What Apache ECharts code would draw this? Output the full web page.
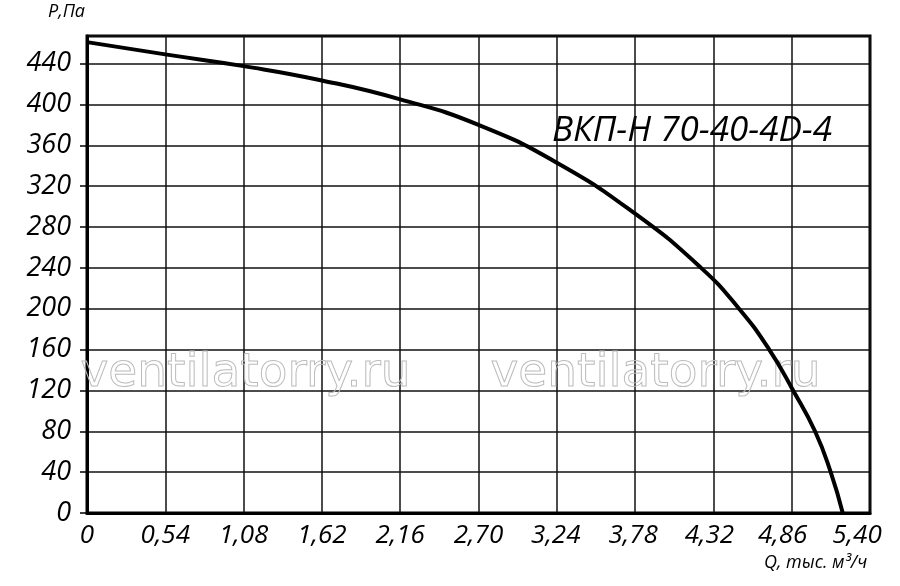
<!DOCTYPE html>
<html>
<head>
<meta charset="utf-8">
<script src="https://cdn.jsdelivr.net/npm/echarts@6/dist/echarts.min.js"></script>
<style>html,body{margin:0;padding:0;background:#fff;}#c{width:900px;height:586px;}</style>
</head>
<body>
<div id="c"></div>
<script>
// Data
var flowQ = [0, 0.54, 1.08, 1.62, 2.16, 2.70, 3.24, 3.78, 4.235, 4.497, 4.705, 4.87, 5.021, 5.129, 5.212];
var pressureP = [461, 449, 437.5, 423.5, 405, 380, 343, 293, 240, 200, 160, 120, 80, 40, 0];
var xTickLabels = ['0', '0,54', '1,08', '1,62', '2,16', '2,70', '3,24', '3,78', '4,32', '4,86', '5,40'];
var yTickLabels = ['0', '40', '80', '120', '160', '200', '240', '280', '320', '360', '400', '440'];
var titleText = 'ВКП-Н 70-40-4D-4';
var yName = 'P,Па';
var xName = 'Q, тыс. м³/ч';
var watermark = 'ventilatorry.ru';

var seriesData = flowQ.map(function (q, i) { return [q, pressureP[i]]; });
var FONT = '"Open Sans", "DejaVu Sans", sans-serif';
// small leftward shift of the last x labels, as in the reference
var xLabelShift = [0, 0, 0, 0, 0, 0, 2, 4, 8, 18, 26];
var rich = {};
xLabelShift.forEach(function (p, i) {
  rich['s' + i] = {color: '#000', fontFamily: FONT, fontStyle: 'italic', fontSize: 26, padding: [0, p, 0, 0]};
});

var chart = echarts.init(document.getElementById('c'), null, {renderer: 'canvas'});
chart.setOption({
  animation: false,
  backgroundColor: '#fff',
  grid: {left: 87, right: 30, top: 36, bottom: 73, show: true, borderColor: '#000', borderWidth: 3, backgroundColor: 'transparent'},
  xAxis: {
    type: 'value', min: 0, max: 5.4, interval: 0.54,
    axisLine: {show: true, lineStyle: {color: '#000', width: 3}},
    axisTick: {show: false},
    splitLine: {show: true, lineStyle: {color: '#111', width: 1.5}},
    axisLabel: {
      margin: 10, color: '#000', fontFamily: FONT, fontStyle: 'italic', fontSize: 26, rich: rich,
      formatter: function (v) { var i = Math.round(v / 0.54); return xTickLabels[i] ? '{s' + i + '|' + xTickLabels[i] + '}' : ''; }
    }
  },
  yAxis: {
    type: 'value', min: 0, max: 467, interval: 40,
    axisLine: {show: true, lineStyle: {color: '#000', width: 3}},
    axisTick: {show: true, length: 7, lineStyle: {color: '#000', width: 1.5}},
    splitLine: {show: true, lineStyle: {color: '#111', width: 1.5}},
    axisLabel: {
      margin: 16, color: '#000', fontFamily: FONT, fontStyle: 'italic', fontSize: 27,
      showMaxLabel: false,
      formatter: function (v) { var i = Math.round(v / 40); return (Math.abs(v - i * 40) < 0.01 && yTickLabels[i] !== undefined) ? yTickLabels[i] : ''; }
    }
  },
  graphic: [
    {type: 'text', left: 48, top: 3, style: {text: yName, fill: '#000', font: 'italic 18px ' + FONT}},
    {type: 'text', left: 764, top: 554, style: {text: xName, fill: '#000', font: 'italic 18px ' + FONT}},
    {type: 'text', left: 552, top: 114, style: {text: titleText, fill: '#000', font: 'italic 35px ' + FONT}},
    {type: 'text', left: 80, top: 350, z: 1, style: {text: watermark, fill: 'rgba(0,0,0,0)', stroke: '#bcbcbc', lineWidth: 1, font: '47px "DejaVu Sans", sans-serif'}},
    {type: 'text', left: 490, top: 350, z: 1, style: {text: watermark, fill: 'rgba(0,0,0,0)', stroke: '#bcbcbc', lineWidth: 1, font: '47px "DejaVu Sans", sans-serif'}}
  ],
  series: [{
    type: 'line', data: seriesData, smooth: 0.5, showSymbol: false, symbol: 'none', z: 5,
    lineStyle: {color: '#000', width: 4}
  }]
});
</script>
</body>
</html>
